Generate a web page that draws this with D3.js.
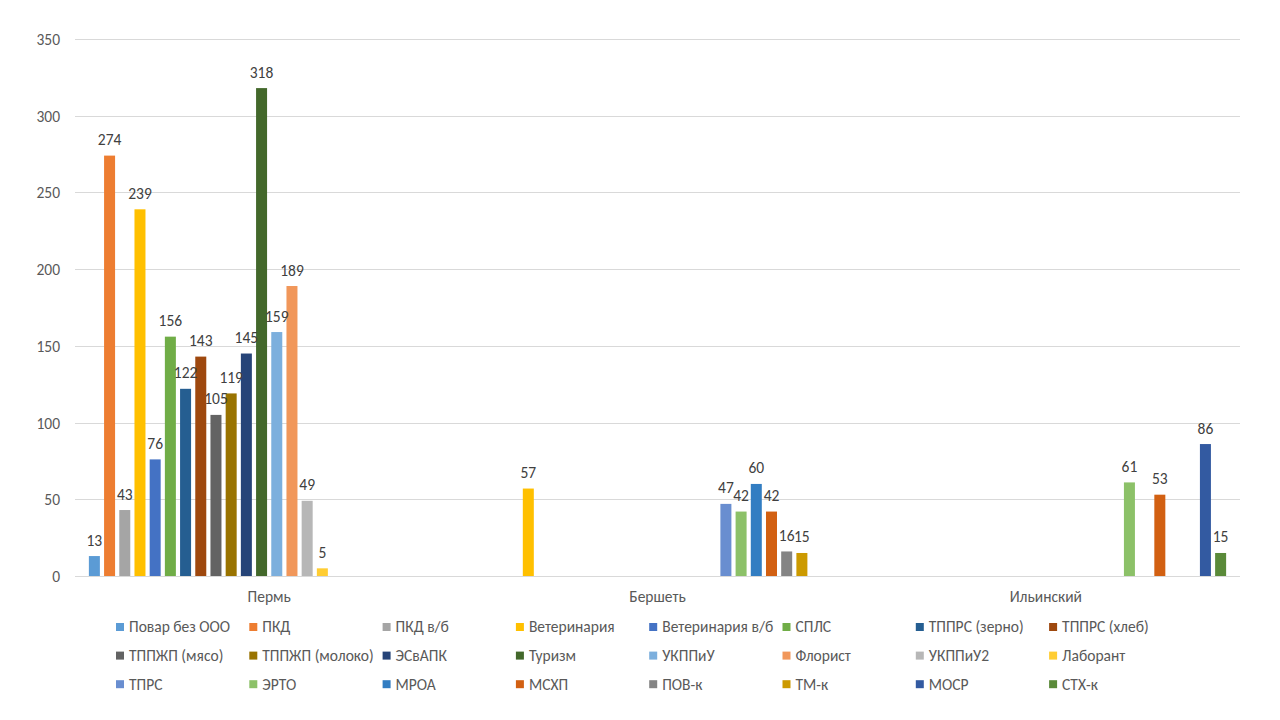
<!DOCTYPE html>
<html>
<head>
<meta charset="utf-8">
<script src="https://cdn.jsdelivr.net/npm/d3@7"></script>
<style>
  body { margin: 0; background: #fff; }
  text { font-family: Carlito, Calibri, "Noto Sans", sans-serif; }
</style>
</head>
<body>
<svg id="chart"></svg>
<script>
// categories (x axis groups)
const categories = ["Пермь", "Бершеть", "Ильинский"];

// series names, in legend order
const seriesNames = [
  "Повар без ООО", "ПКД", "ПКД в/б", "Ветеринария", "Ветеринария в/б", "СПЛС", "ТППРС (зерно)", "ТППРС (хлеб)",
  "ТППЖП (мясо)", "ТППЖП (молоко)", "ЭСвАПК", "Туризм", "УКППиУ", "Флорист", "УКППиУ2", "Лаборант",
  "ТПРС", "ЭРТО", "МРОА", "МСХП", "ПОВ-к", "ТМ-к", "МОСР", "СТХ-к"
];

const seriesColors = [
  "#5B9BD5", "#ED7D31", "#A5A5A5", "#FFC000", "#4472C4", "#70AD47", "#255E91", "#9E480E",
  "#636363", "#997300", "#264478", "#43682B", "#7CAFDD", "#F1975A", "#B7B7B7", "#FFCD33",
  "#698ED0", "#8CC168", "#327DC2", "#D26012", "#848484", "#CC9A00", "#335AA1", "#5A8A39"
];

// values per category, one per series (null = no bar)
const permValues = [13, 274, 43, 239, 76, 156, 122, 143, 105, 119, 145, 318, 159, 189, 49, 5,
  null, null, null, null, null, null, null, null];
const bershetValues = [null, null, null, 57, null, null, null, null, null, null, null, null, null, null, null, null,
  47, 42, 60, 42, 16, 15, null, null];
const ilyinskyValues = [null, null, null, null, null, null, null, null, null, null, null, null, null, null, null, null,
  null, 61, null, 53, null, null, 86, 15];

const yTicks = [0, 50, 100, 150, 200, 250, 300, 350];

const width = 1280;
const height = 720;
const fontSize = "15.5px";
const svg = d3.select("#chart").attr("width", width).attr("height", height);

const plot = { left: 75, right: 1240, top: 39, bottom: 576 };

// build rows for the bars
const valuesByCategory = [permValues, bershetValues, ilyinskyValues];
const bars = [];
categories.forEach((cat, ci) => {
  valuesByCategory[ci].forEach((v, si) => {
    if (v !== null) bars.push({ category: cat, series: seriesNames[si], color: seriesColors[si], value: v });
  });
});

const x0 = d3.scaleBand().domain(categories).range([plot.left, plot.right]).padding(0);
const x1 = d3.scaleBand().domain(seriesNames).range([0, x0.bandwidth()])
  .paddingInner(0.276).paddingOuter(0.913);
const y = d3.scaleLinear().domain([0, 350]).range([plot.bottom, plot.top]);

// gridlines
svg.append("g")
  .selectAll("line")
  .data(yTicks)
  .enter()
  .append("line")
  .attr("x1", plot.left)
  .attr("x2", plot.right)
  .attr("y1", (d) => Math.round(y(d)) + 0.5)
  .attr("y2", (d) => Math.round(y(d)) + 0.5)
  .attr("stroke", "#D9D9D9")
  .attr("stroke-width", 1);

// y axis labels
const yAxis = d3.axisLeft(y).tickValues(yTicks).tickSize(0).tickPadding(0);
const yAxisG = svg.append("g").attr("transform", `translate(${plot.left - 15},0)`).call(yAxis);
yAxisG.select(".domain").remove();
yAxisG.selectAll("text")
  .attr("fill", "#595959")
  .style("font-size", fontSize)
  .attr("dy", "0.35em");

// x axis category labels
const xAxis = d3.axisBottom(x0).tickSize(0).tickPadding(0);
const xAxisG = svg.append("g").attr("transform", `translate(0,${plot.bottom + 26})`).call(xAxis);
xAxisG.select(".domain").remove();
xAxisG.selectAll("text")
  .attr("fill", "#595959")
  .style("font-size", fontSize)
  .attr("dy", 0);

// bars
svg.append("g")
  .selectAll("rect")
  .data(bars)
  .enter()
  .append("rect")
  .attr("x", (d) => x0(d.category) + x1(d.series))
  .attr("width", x1.bandwidth())
  .attr("y", (d) => y(d.value))
  .attr("height", (d) => plot.bottom - y(d.value))
  .attr("fill", (d) => d.color);

// data labels, drawn on top of every bar
svg.append("g")
  .selectAll("text")
  .data(bars)
  .enter()
  .append("text")
  .attr("x", (d) => x0(d.category) + x1(d.series) + x1.bandwidth() / 2)
  .attr("y", (d) => y(d.value) - 10.5)
  .attr("text-anchor", "middle")
  .attr("fill", "#404040")
  .style("font-size", fontSize)
  .text((d) => d.value);

// legend: 3 rows of 8
const legendCols = 8;
const legend = svg.append("g")
  .selectAll("g")
  .data(seriesNames)
  .enter()
  .append("g")
  .attr("transform", (d, i) => `translate(${116 + (i % legendCols) * 133.3},${627 + Math.floor(i / legendCols) * 28.6})`);

legend.append("rect")
  .attr("x", 0)
  .attr("y", -4)
  .attr("width", 8)
  .attr("height", 8)
  .attr("fill", (d, i) => seriesColors[i]);

legend.append("text")
  .attr("x", 13)
  .attr("y", 0)
  .attr("dy", "0.35em")
  .attr("fill", "#595959")
  .style("font-size", fontSize)
  .text((d) => d);
</script>
</body>
</html>
